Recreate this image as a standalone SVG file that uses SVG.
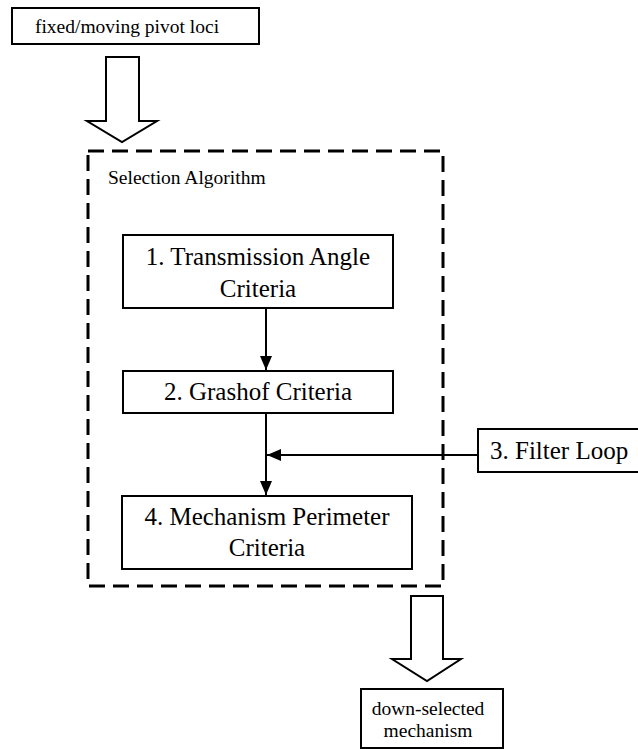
<svg xmlns="http://www.w3.org/2000/svg" width="638" height="749" viewBox="0 0 638 749">
<defs>
<marker id="ah" markerWidth="14" markerHeight="12" refX="14" refY="6" orient="auto" markerUnits="userSpaceOnUse">
<path d="M0,0 L14,6 L0,12 Z" fill="#000"/>
</marker>
<style>
.box{fill:#fff;stroke:#000;stroke-width:2}
.blk{fill:#fff;stroke:#000;stroke-width:2;stroke-linejoin:miter}
text{font-family:'Liberation Serif', 'DejaVu Serif', serif;fill:#000}
.s{font-size:19.5px}
.l{font-size:25px}
.c{stroke:#000;stroke-width:2;fill:none}
</style>
</defs>
<g id="input">
<rect class="box" x="12" y="8" width="247" height="36"/>
<text class="s" x="127" y="33" text-anchor="middle">fixed/moving pivot loci</text>
</g>
<g id="arrow-in">
<path class="blk" d="M106,57 L139,57 L139,121 L157,121 L122,142 L87,121 L106,121 Z"/>
</g>
<g id="selection-algorithm">
<rect x="88" y="151" width="355" height="435" fill="none" stroke="#000" stroke-width="3" stroke-dasharray="16 8"/>
<text class="s" x="108" y="184">Selection Algorithm</text>
</g>
<g id="box1">
<rect class="box" x="123" y="235" width="270" height="73"/>
<text class="l" x="258" y="265" text-anchor="middle">1. Transmission Angle</text>
<text class="l" x="258" y="297" text-anchor="middle">Criteria</text>
</g>
<g id="box2">
<rect class="box" x="123" y="371" width="270" height="42"/>
<text class="l" x="258" y="400" text-anchor="middle">2. Grashof Criteria</text>
</g>
<g id="box3">
<rect class="box" x="478" y="429" width="170" height="43"/>
<text class="l" x="490" y="459">3. Filter Loop</text>
</g>
<g id="box4">
<rect class="box" x="122" y="496" width="290" height="73"/>
<text class="l" x="267" y="525" text-anchor="middle">4. Mechanism Perimeter</text>
<text class="l" x="267" y="556" text-anchor="middle">Criteria</text>
</g>
<g id="arrow-out">
<path class="blk" d="M411,596 L443,596 L443,659 L461,659 L427,681 L392,659 L411,659 Z"/>
</g>
<g id="output">
<rect class="box" x="361" y="689" width="142" height="59"/>
<text class="s" x="428" y="715" text-anchor="middle">down-selected</text>
<text class="s" x="428" y="737" text-anchor="middle">mechanism</text>
</g>
<g id="connectors">
<line class="c" x1="266" y1="308" x2="266" y2="370" marker-end="url(#ah)"/>
<line class="c" x1="266" y1="413" x2="266" y2="495" marker-end="url(#ah)"/>
<line class="c" x1="478" y1="455" x2="267" y2="455" marker-end="url(#ah)"/>
</g>
</svg>
